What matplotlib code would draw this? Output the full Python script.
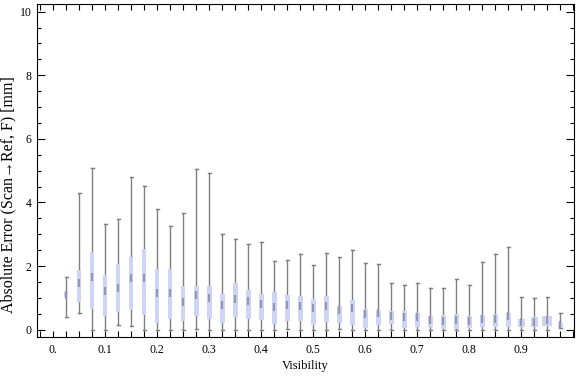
import numpy as np
import matplotlib
matplotlib.use("Agg")
import matplotlib.pyplot as plt
from matplotlib.patches import Rectangle
from matplotlib.ticker import MultipleLocator, FixedLocator

# -------------------------
# Data
# -------------------------
visibility = [0.025 * k for k in range(1, 40)]

whisker_low = [0.41, 0.52, 0.00, 0.00, 0.15, 0.13, 0.00, 0.00, 0.00, 0.00,
               0.02, 0.00, 0.00, 0.00, 0.00, 0.00, 0.00, 0.02, 0.00, 0.00,
               0.00, 0.02, 0.00, 0.00, 0.00, 0.00, 0.00, 0.00, 0.00, 0.00,
               0.00, 0.00, 0.00, 0.00, 0.00, 0.00, 0.00, 0.00, 0.06]
q1 = [1.04, 0.88, 0.64, 0.43, 0.54, 0.62, 0.46, 0.22, 0.33, 0.28,
      0.44, 0.35, 0.22, 0.41, 0.35, 0.31, 0.19, 0.28, 0.28, 0.16,
      0.25, 0.22, 0.16, 0.06, 0.14, 0.17, 0.04, 0.07, 0.07, 0.03,
      0.03, 0.04, 0.09, 0.07, 0.09, 0.09, 0.09, 0.13, 0.06]
median = [1.10, 1.46, 1.67, 1.23, 1.30, 1.62, 1.64, 1.14, 1.16, 0.88,
          1.09, 0.99, 0.78, 0.97, 0.90, 0.80, 0.72, 0.76, 0.75, 0.67,
          0.75, 0.62, 0.69, 0.49, 0.51, 0.44, 0.39, 0.39, 0.30, 0.27,
          0.30, 0.26, 0.34, 0.34, 0.43, 0.23, 0.25, 0.30, 0.16]
q3 = [1.19, 1.88, 2.45, 1.72, 2.06, 2.30, 2.54, 1.91, 1.91, 1.37,
      1.37, 1.37, 1.12, 1.47, 1.25, 1.11, 1.19, 1.09, 1.06, 0.97,
      1.06, 0.75, 0.93, 0.65, 0.60, 0.59, 0.59, 0.53, 0.43, 0.47,
      0.49, 0.44, 0.47, 0.49, 0.53, 0.34, 0.40, 0.44, 0.21]
whisker_high = [1.67, 4.31, 5.07, 3.31, 3.47, 4.79, 4.52, 3.79, 3.26, 3.68,
                5.04, 4.92, 3.00, 2.84, 2.68, 2.75, 2.15, 2.18, 2.37, 2.02,
                2.40, 2.28, 2.51, 2.09, 2.06, 1.46, 1.41, 1.46, 1.31, 1.31,
                1.58, 1.40, 2.12, 2.37, 2.59, 1.03, 0.99, 1.03, 0.51]

x_tick_labels = ["0.", "0.1", "0.2", "0.3", "0.4", "0.5", "0.6", "0.7", "0.8", "0.9"]

# -------------------------
# Plot
# -------------------------
serif = ["Liberation Serif", "DejaVu Serif"]
plt.rcParams["font.family"] = serif

fig = plt.figure(figsize=(5.76, 3.77), dpi=100)
ax = fig.add_axes([37 / 576, (377 - 337.3) / 377, (574.3 - 37) / 576, (337.3 - 4.3) / 377])

box_color = "#cdd4f5"
whisker_color = "#7f7f7f"
box_w = 0.009
cap_w = 0.006
wide = {35: 0.014, 36: 0.014, 37: 0.019}

for i, x in enumerate(visibility):
    w = wide.get(i, box_w)
    ax.plot([x, x], [whisker_low[i], whisker_high[i]], color=whisker_color, lw=1.0, zorder=1)
    for yv in (whisker_low[i], whisker_high[i]):
        ax.plot([x - cap_w / 2, x + cap_w / 2], [yv, yv], color=whisker_color, lw=1.0, zorder=1)
    ax.add_patch(Rectangle((x - w / 2, q1[i]), w, q3[i] - q1[i],
                           facecolor=box_color, edgecolor="none", zorder=2))
    ax.plot([x], [median[i]], marker="|", ms=6, mew=1.6, color="#8a8ea6", alpha=0.85, zorder=3)

ax.set_xlim(-0.031, 1.002)
ax.set_ylim(-0.24, 10.23)

ax.xaxis.set_major_locator(FixedLocator([0.1 * k for k in range(10)]))
ax.set_xticklabels(x_tick_labels)
ax.xaxis.set_minor_locator(MultipleLocator(0.025))
ax.yaxis.set_major_locator(MultipleLocator(2))
ax.yaxis.set_minor_locator(MultipleLocator(0.5))

ax.tick_params(which="both", direction="in", top=True, right=True, width=0.8,
               labelsize=8.5, colors="black")
ax.tick_params(axis="x", which="both", length=4, pad=5)
ax.tick_params(axis="y", which="major", length=6, pad=4)
ax.tick_params(axis="y", which="minor", length=3)
for s in ax.spines.values():
    s.set_linewidth(0.8)

ax.set_xlabel("Visibility", fontsize=9, labelpad=3)
ax.set_ylabel("Absolute Error (Scan\u2192Ref, F) [mm]", fontsize=11.5)
ax.yaxis.set_label_coords(-0.038, 0.43)

plt.savefig("out.png", dpi=100)
